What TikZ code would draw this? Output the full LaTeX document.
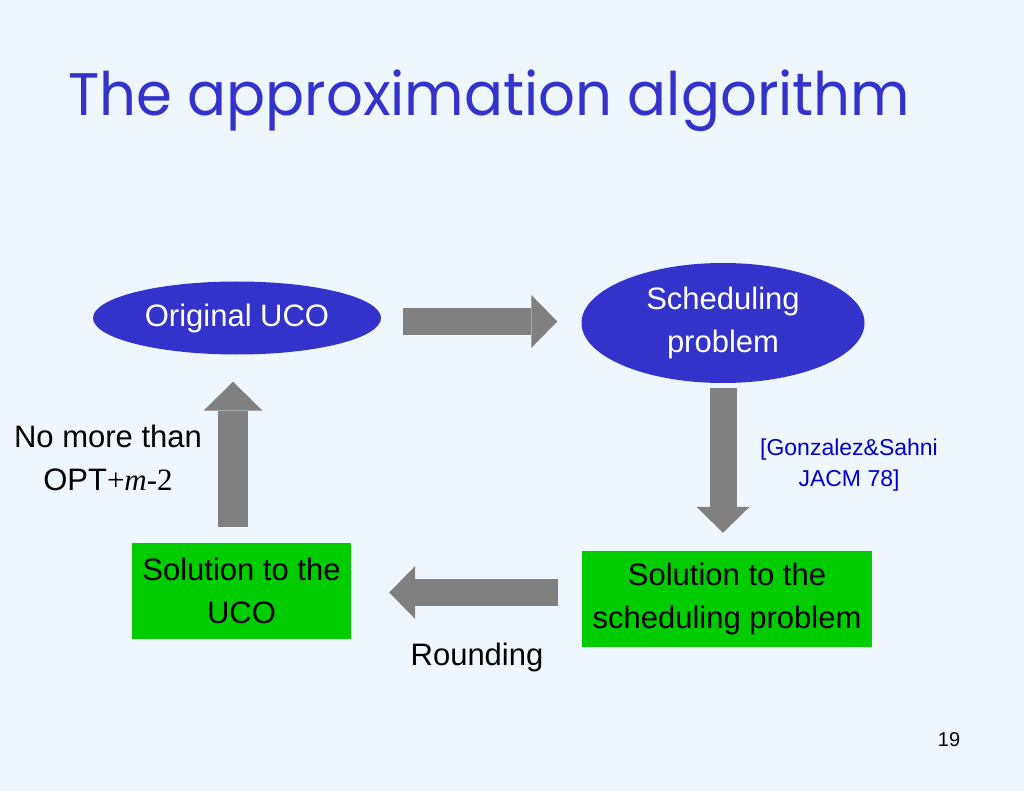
\documentclass[tikz,border=0pt]{standalone}
\usepackage{fontspec}
\setmainfont{Liberation Sans}
\newfontfamily\titlefont{Poppins}
\newfontfamily\timesfont{Liberation Serif}
\usetikzlibrary{shapes.geometric,arrows.meta}
\definecolor{slidebg}{RGB}{238,246,254}
\definecolor{ucoblue}{RGB}{51,51,204}
\definecolor{solgreen}{RGB}{0,204,0}
\definecolor{arrowgray}{RGB}{128,128,128}
\definecolor{refblue}{RGB}{0,0,204}
\tikzset{every node/.style={inner sep=0pt,font=\fontsize{31}{43}\selectfont},
  blob/.style={ellipse,fill=ucoblue,text=white,align=center},
  solbox/.style={rectangle,fill=solgreen,text=black,align=center},
  bigarrow/.style={draw=arrowgray,line width=27pt,-{Triangle[length=26pt,width=53pt,line width=0pt]}}}

\begin{document}
\begin{tikzpicture}[x=1pt,y=-1pt]
  \fill[slidebg] (0,0) rectangle (1024,791);
  \useasboundingbox (0,0) rectangle (1024,791);
  \node[anchor=base west,text=ucoblue,font=\titlefont\fontsize{60}{70}\selectfont] (title) at (68,116) {\scalebox{0.962}[1]{The approximation algorithm}};
  \node[blob,minimum width=288pt,minimum height=73pt] (uco) at (237,318) {Original UCO};
  \node[blob,minimum width=283pt,minimum height=120pt] (sched) at (723,323) {Scheduling\\problem};
  \node[solbox,minimum width=290pt,minimum height=96pt] (solsched) at (727,599) {Solution to the\\scheduling problem};
  \node[solbox,minimum width=219pt,minimum height=96pt] (soluco) at (241.5,591) {Solution to the\\UCO};
  \node[align=center] (bound) at (108,458) {No more than\\OPT{\timesfont+\textit{m}-2}};
  \node[align=center,text=refblue,font=\fontsize{23}{31}\selectfont] (cite) at (849,465) {[Gonzalez\&Sahni\\JACM 78]};
  \node[anchor=base] (round) at (477,665) {Rounding};
  \node[anchor=base,font=\fontsize{20}{24}\selectfont] (page) at (949,746) {19};
  \draw[bigarrow,shorten <=22pt,shorten >=24pt] ([yshift=-3.5pt]uco.east) -- ([yshift=-3.5pt]uco.east -| sched.west);
  \draw[bigarrow,shorten <=5pt,shorten >=18pt] (sched.south) -- (sched.south |- solsched.north);
  \draw[bigarrow,shorten <=24pt,shorten >=38pt] ([yshift=6.5pt]solsched.west) -- ([yshift=6.5pt]solsched.west -| soluco.east);
  \draw[bigarrow,line width=30pt,-{Triangle[length=29pt,width=59pt,line width=0pt]},shorten <=16pt,shorten >=27pt] ([xshift=-8.5pt]soluco.north) -- ([xshift=-8.5pt]soluco.north |- uco.south);
\end{tikzpicture}
\end{document}
